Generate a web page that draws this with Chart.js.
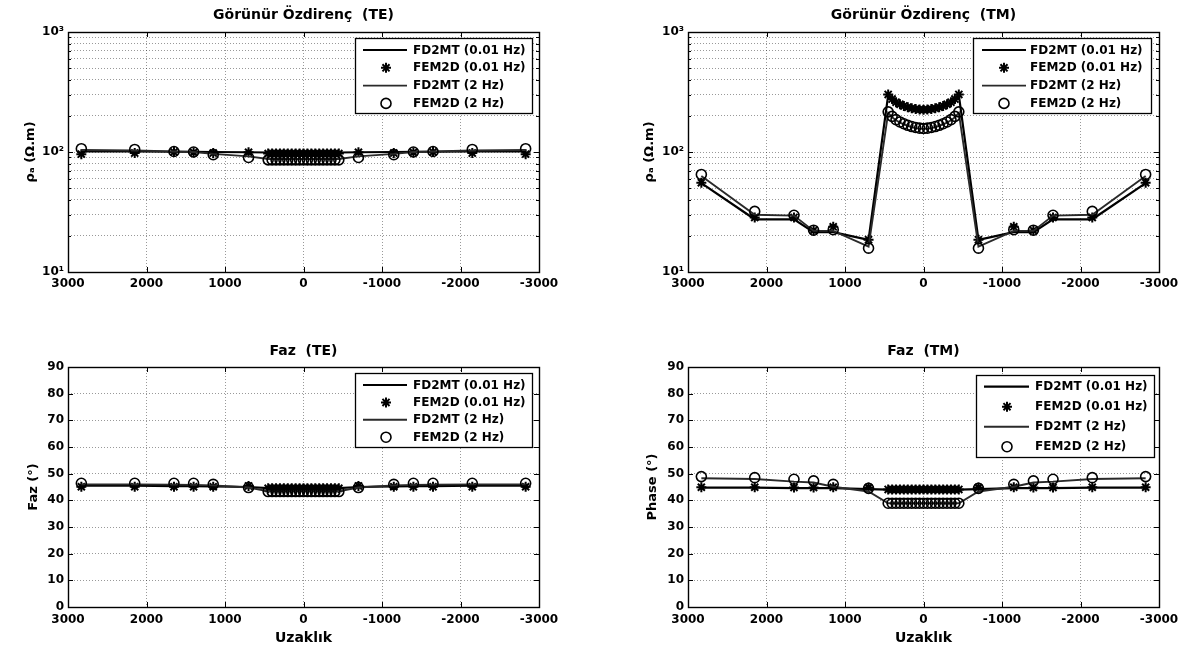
<!DOCTYPE html>
<html>
<head>
<meta charset="utf-8">
<script src="https://cdn.jsdelivr.net/npm/chart.js@4.4.1/dist/chart.umd.min.js"></script>
<style>
html,body{margin:0;padding:0;background:#fff;}
#wrap{position:relative;width:1188px;height:652px;overflow:hidden;background:#fff;}
canvas{position:absolute;}
</style>
</head>
<body>
<div id="wrap">
<canvas id="cTL" style="left:0px;top:0px" width="594" height="326"></canvas>
<canvas id="cTR" style="left:594px;top:0px" width="594" height="326"></canvas>
<canvas id="cBL" style="left:0px;top:326px" width="594" height="326"></canvas>
<canvas id="cBR" style="left:594px;top:326px" width="594" height="326"></canvas>
</div>
<script>
// ---------------- DATA ----------------
const distances = [2830, 2150, 1650, 1400, 1150, 700, 450, 400, 350, 300, 250, 200, 150, 100, 50, 0, -50, -100, -150, -200, -250, -300, -350, -400, -450, -700, -1150, -1400, -1650, -2150, -2830];

const xTickValues = [3000, 2000, 1000, 0, -1000, -2000, -3000];
const rhoTickValues = [10, 20, 30, 40, 50, 60, 70, 80, 90, 100, 200, 300, 400, 500, 600, 700, 800, 900, 1000];
const rhoTickLabels = {10: '10¹', 100: '10²', 1000: '10³'};
const phaseTickValues = [0, 10, 20, 30, 40, 50, 60, 70, 80, 90];

const seriesLabels = ['FD2MT (0.01 Hz)', 'FEM2D (0.01 Hz)', 'FD2MT (2 Hz)', 'FEM2D (2 Hz)'];
const panelTitles = ['Görünür Özdirenç  (TE)', 'Görünür Özdirenç  (TM)', 'Faz  (TE)', 'Faz  (TM)'];

// TE apparent resistivity
const teRhoFd001  = [101, 101, 100.5, 100.5, 100, 99.5, 99, 99, 99, 99, 99, 99, 99, 99, 99, 99, 99, 99, 99, 99, 99, 99, 99, 99, 99, 99.5, 100, 100.5, 100.5, 101, 101];
const teRhoFem001 = [96, 98, 100, 99, 98, 99.5, 97, 97, 97, 97, 97, 97, 97, 97, 97, 97, 97, 97, 97, 97, 97, 97, 97, 97, 97, 99.5, 98, 99, 100, 98, 96];
const teRhoFd2    = [104, 103, 101, 100, 96.5, 92, 87.5, 87.5, 87.5, 87.5, 87.5, 87.5, 87.5, 87.5, 87.5, 87.5, 87.5, 87.5, 87.5, 87.5, 87.5, 87.5, 87.5, 87.5, 87.5, 92, 96.5, 100, 101, 103, 104];
const teRhoFem2   = [106.5, 105, 101, 100, 95, 90, 86, 86, 86, 86, 86, 86, 86, 86, 86, 86, 86, 86, 86, 86, 86, 86, 86, 86, 86, 90, 95, 100, 101, 105, 106.5];

// TM apparent resistivity
const tmRhoFd001  = [55, 27.5, 27.5, 21.5, 21.5, 18.5, 298, 272, 257, 247, 240, 234, 230, 227, 225, 224, 225, 227, 230, 234, 240, 247, 257, 272, 298, 18.5, 21.5, 21.5, 27.5, 27.5, 55];
const tmRhoFem001 = [55.5, 28.5, 28.5, 22.2, 23.8, 18.6, 302, 276, 260, 250, 242, 236, 231, 228, 226, 225, 226, 228, 231, 236, 242, 250, 260, 276, 302, 18.6, 23.8, 22.2, 28.5, 28.5, 55.5];
const tmRhoFd2    = [63, 30, 29.5, 22, 22, 16.3, 212, 195, 184, 176, 170, 165, 161, 158, 156.5, 156, 156.5, 158, 161, 165, 170, 176, 184, 195, 212, 16.3, 22, 22, 29.5, 30, 63];
const tmRhoFem2   = [65, 32, 29.7, 22.3, 22.5, 15.8, 216, 198, 186, 178, 172, 167, 163, 160, 158, 157, 158, 160, 163, 167, 172, 178, 186, 198, 216, 15.8, 22.5, 22.3, 29.7, 32, 65];

// TE phase
const tePhFd001  = [45.5, 45.5, 45.3, 45.3, 45.2, 45.0, 44.6, 44.6, 44.6, 44.6, 44.6, 44.6, 44.6, 44.6, 44.6, 44.6, 44.6, 44.6, 44.6, 44.6, 44.6, 44.6, 44.6, 44.6, 44.6, 45.0, 45.2, 45.3, 45.3, 45.5, 45.5];
const tePhFem001 = [45.1, 45.1, 45.1, 45.1, 45.1, 45.4, 44.5, 44.5, 44.5, 44.5, 44.5, 44.5, 44.5, 44.5, 44.5, 44.5, 44.5, 44.5, 44.5, 44.5, 44.5, 44.5, 44.5, 44.5, 44.5, 45.4, 45.1, 45.1, 45.1, 45.1, 45.1];
const tePhFd2    = [46.0, 46.0, 45.9, 45.8, 45.6, 44.8, 43.4, 43.4, 43.4, 43.4, 43.4, 43.4, 43.4, 43.4, 43.4, 43.4, 43.4, 43.4, 43.4, 43.4, 43.4, 43.4, 43.4, 43.4, 43.4, 44.8, 45.6, 45.8, 45.9, 46.0, 46.0];
const tePhFem2   = [46.4, 46.4, 46.4, 46.4, 46.0, 44.8, 43.3, 43.3, 43.3, 43.3, 43.3, 43.3, 43.3, 43.3, 43.3, 43.3, 43.3, 43.3, 43.3, 43.3, 43.3, 43.3, 43.3, 43.3, 43.3, 44.8, 46.0, 46.4, 46.4, 46.4, 46.4];

// TM phase
const tmPhFd001  = [44.8, 44.8, 44.6, 44.6, 44.6, 44.2, 44.0, 44.0, 44.0, 44.0, 44.0, 44.0, 44.0, 44.0, 44.0, 44.0, 44.0, 44.0, 44.0, 44.0, 44.0, 44.0, 44.0, 44.0, 44.0, 44.2, 44.6, 44.6, 44.6, 44.8, 44.8];
const tmPhFem001 = [44.9, 44.9, 44.8, 44.8, 44.9, 44.8, 44.1, 44.1, 44.1, 44.1, 44.1, 44.1, 44.1, 44.1, 44.1, 44.1, 44.1, 44.1, 44.1, 44.1, 44.1, 44.1, 44.1, 44.1, 44.1, 44.8, 44.9, 44.8, 44.8, 44.9, 44.9];
const tmPhFd2    = [48.3, 48.0, 47.0, 46.7, 45.1, 43.3, 38.9, 38.9, 38.9, 38.9, 38.9, 38.9, 38.9, 38.9, 38.9, 38.9, 38.9, 38.9, 38.9, 38.9, 38.9, 38.9, 38.9, 38.9, 38.9, 43.3, 45.1, 46.7, 47.0, 48.0, 48.3];
const tmPhFem2   = [48.9, 48.5, 47.9, 47.3, 46.0, 44.5, 38.9, 38.9, 38.9, 38.9, 38.9, 38.9, 38.9, 38.9, 38.9, 38.9, 38.9, 38.9, 38.9, 38.9, 38.9, 38.9, 38.9, 38.9, 38.9, 44.5, 46.0, 47.3, 47.9, 48.5, 48.9];

// ---------------- RENDERING ----------------
const FONT = "'DejaVu Sans', 'Liberation Sans', sans-serif";
Chart.defaults.font.family = FONT;
Chart.defaults.font.weight = 'bold';
Chart.defaults.color = '#000';

const GRID_COLOR = 'rgba(0,0,0,0.4)';
const GRID_DASH = [1, 2];

function pts(arr) { return distances.map((x, i) => ({x: x, y: arr[i]})); }

const framePlugin = {
  id: 'frame',
  afterDatasetsDraw(chart) {
    const o = chart.options.plugins.frame;
    const ctx = chart.ctx, a = chart.chartArea;
    const xs = chart.scales.x, ys = chart.scales.y;
    ctx.save();
    ctx.strokeStyle = '#000';
    ctx.lineWidth = 1;
    ctx.beginPath();
    xTickValues.forEach(v => {
      const px = Math.round(xs.getPixelForValue(v)) + 0.5;
      ctx.moveTo(px, a.bottom); ctx.lineTo(px, a.bottom - 5);
      ctx.moveTo(px, a.top); ctx.lineTo(px, a.top + 5);
    });
    o.yTicks.forEach(v => {
      const py = Math.round(ys.getPixelForValue(v)) + 0.5;
      const len = o.majorY.includes(v) ? 5 : 3;
      ctx.moveTo(a.left, py); ctx.lineTo(a.left + len, py);
      ctx.moveTo(a.right, py); ctx.lineTo(a.right - len, py);
    });
    ctx.stroke();
    ctx.lineWidth = 1.4;
    ctx.strokeRect(Math.round(a.left) + 0.5, Math.round(a.top) + 0.5, Math.round(a.right - a.left), Math.round(a.bottom - a.top));
    ctx.restore();

    // legend box
    const L = o.legend;
    const x0 = Math.round(a.right - L.inset - L.w), y0 = Math.round(a.top + L.top);
    ctx.save();
    ctx.fillStyle = '#fff';
    ctx.fillRect(x0, y0, L.w, L.h);
    ctx.strokeStyle = '#000';
    ctx.lineWidth = 1.3;
    ctx.strokeRect(x0 + 0.5, y0 + 0.5, L.w, L.h);
    chart.data.datasets.forEach((ds, i) => {
      const cy = y0 + L.first + i * L.step;
      if (ds.showLine) {
        ctx.strokeStyle = ds.borderColor;
        ctx.lineWidth = ds.borderWidth;
        ctx.beginPath();
        ctx.moveTo(x0 + L.lineFrom, cy);
        ctx.lineTo(x0 + L.lineTo, cy);
        ctx.stroke();
      } else {
        ctx.strokeStyle = ds.pointBorderColor;
        ctx.fillStyle = ds.pointBackgroundColor;
        ctx.lineWidth = ds.pointBorderWidth;
        Chart.helpers.drawPoint(ctx, {pointStyle: ds.pointStyle, radius: ds.pointRadius, borderWidth: ds.pointBorderWidth, rotation: 0}, x0 + L.marker, cy);
      }
      ctx.fillStyle = '#000';
      ctx.font = 'bold 12px ' + FONT;
      ctx.textAlign = 'left';
      ctx.textBaseline = 'middle';
      ctx.fillText(ds.label, x0 + L.text, cy + 0.5);
    });
    ctx.restore();

    // panel title
    ctx.save();
    ctx.fillStyle = '#000';
    ctx.font = 'bold 14px ' + FONT;
    ctx.textAlign = 'center';
    ctx.textBaseline = 'middle';
    ctx.fillText(o.title, (a.left + a.right) / 2, o.titleY);
    ctx.restore();
  }
};

function makePanel(id, p) {
  const isLog = p.log;
  const datasets = [
    {label: seriesLabels[0], data: pts(p.fd001), showLine: true, borderColor: '#000', borderWidth: 2.2,
     pointRadius: 0, pointHoverRadius: 0, order: 4},
    {label: seriesLabels[1], data: pts(p.fem001), showLine: false, pointStyle: 'star', pointRadius: 5,
     pointBorderColor: '#000', pointBackgroundColor: '#000', pointBorderWidth: 2, order: 3},
    {label: seriesLabels[2], data: pts(p.fd2), showLine: true, borderColor: '#2a2a2a', borderWidth: 1.9,
     pointRadius: 0, pointHoverRadius: 0, order: 2},
    {label: seriesLabels[3], data: pts(p.fem2), showLine: false, pointStyle: 'circle', pointRadius: 5,
     pointBorderColor: '#000', pointBackgroundColor: 'rgba(255,255,255,0)', pointBorderWidth: 1.6, order: 1}
  ];
  const yTicks = isLog ? rhoTickValues : phaseTickValues;
  const majorY = isLog ? [10, 100, 1000] : phaseTickValues;
  return new Chart(document.getElementById(id), {
    type: 'scatter',
    data: {datasets},
    plugins: [framePlugin],
    options: {
      responsive: false,
      animation: false,
      devicePixelRatio: 1,
      events: [],
      layout: {padding: {left: 0, right: p.padRight, top: p.top, bottom: 0}},
      plugins: {
        legend: {display: false},
        tooltip: {enabled: false},
        title: {display: false},
        frame: {yTicks, majorY, legend: p.legend, title: p.title, titleY: p.titleY}
      },
      scales: {
        x: {
          type: 'linear', reverse: true, min: -3000, max: 3000,
          afterBuildTicks: s => { s.ticks = xTickValues.map(v => ({value: v})); },
          afterFit: s => { s.height = p.xH; },
          ticks: {autoSkip: false, maxRotation: 0, padding: p.xTickPad, color: '#000',
                  font: {size: 12, weight: 'bold'}, callback: v => String(v)},
          grid: {color: GRID_COLOR, lineWidth: 1, drawTicks: false, borderDash: GRID_DASH},
          border: {display: false, dash: GRID_DASH},
          title: {display: !!p.xTitle, text: 'Uzaklık', color: '#000',
                  font: {size: 14, weight: 'bold'}, padding: {top: 0, bottom: 5.6}}
        },
        y: {
          type: isLog ? 'logarithmic' : 'linear',
          min: isLog ? 10 : 0, max: isLog ? 1000 : 90,
          afterBuildTicks: s => { s.ticks = yTicks.map(v => ({value: v})); },
          afterFit: s => { s.width = p.yW; },
          ticks: {autoSkip: false, padding: 4, color: '#000', font: {size: 12, weight: 'bold'},
                  callback: v => isLog ? (rhoTickLabels[v] || '') : String(v)},
          grid: {color: GRID_COLOR, lineWidth: 1, drawTicks: false, borderDash: GRID_DASH},
          border: {display: false, dash: GRID_DASH},
          title: {display: true, text: p.yTitle, color: '#000', font: {size: 13, weight: 'bold'},
                  padding: {top: p.yTitleCenter - 7.8, bottom: 0}}
        }
      }
    }
  });
}

const legendTop = {inset: 7.5, top: 6, w: 177, h: 75, first: 12, step: 17.8, lineFrom: 8, lineTo: 52, marker: 31, text: 58};
const legendTopR = {inset: 8, top: 6, w: 178, h: 75, first: 12, step: 17.8, lineFrom: 9, lineTo: 53, marker: 31, text: 57};
const legendBotL = {inset: 7.5, top: 6, w: 177, h: 74, first: 12, step: 17.4, lineFrom: 8, lineTo: 52, marker: 31, text: 58};
const legendBotR = {inset: 5, top: 8, w: 178, h: 82, first: 11.7, step: 20, lineFrom: 8, lineTo: 53, marker: 31, text: 59};

makePanel('cTL', {log: true, fd001: teRhoFd001, fem001: teRhoFem001, fd2: teRhoFd2, fem2: teRhoFem2,
  padRight: 55, yW: 68, top: 32, xH: 54, xTickPad: 5, title: panelTitles[0], titleY: 15,
  yTitle: 'ρₐ (Ω.m)', yTitleCenter: 30.6, legend: legendTop});
makePanel('cTR', {log: true, fd001: tmRhoFd001, fem001: tmRhoFem001, fd2: tmRhoFd2, fem2: tmRhoFem2,
  padRight: 29, yW: 94, top: 32, xH: 54, xTickPad: 5, title: panelTitles[1], titleY: 15,
  yTitle: 'ρₐ (Ω.m)', yTitleCenter: 56, legend: legendTopR});
makePanel('cBL', {log: false, fd001: tePhFd001, fem001: tePhFem001, fd2: tePhFd2, fem2: tePhFem2,
  padRight: 55, yW: 68, top: 41, xH: 45, xTickPad: 6, title: panelTitles[2], titleY: 25, xTitle: true,
  yTitle: 'Faz (°)', yTitleCenter: 33.7, legend: legendBotL});
makePanel('cBR', {log: false, fd001: tmPhFd001, fem001: tmPhFem001, fd2: tmPhFd2, fem2: tmPhFem2,
  padRight: 29, yW: 94, top: 41, xH: 45, xTickPad: 6, title: panelTitles[3], titleY: 25, xTitle: true,
  yTitle: 'Phase (°)', yTitleCenter: 58.5, legend: legendBotR});
</script>
</body>
</html>
